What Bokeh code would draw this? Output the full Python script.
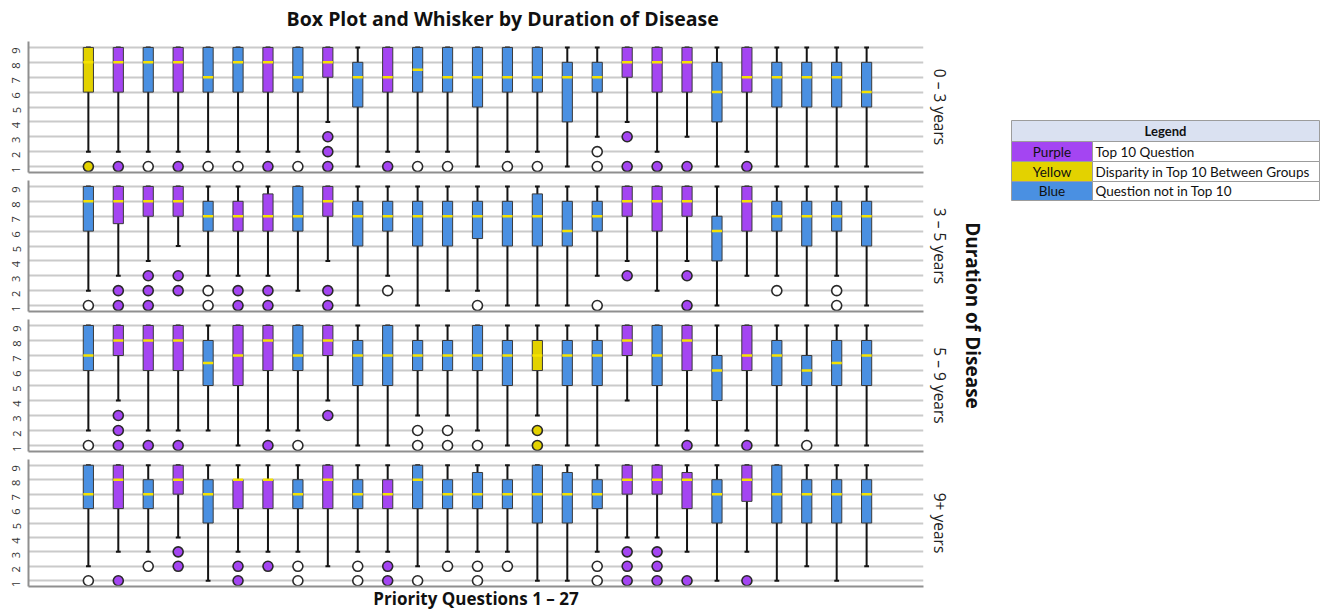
import math
from bokeh.plotting import figure
from bokeh.layouts import column, row
from bokeh.models import Range1d, FixedTicker, Title, ColumnDataSource
from bokeh.embed import file_html
from bokeh.resources import INLINE
from bokeh.core.properties import value

# ---------------- data ----------------
questions = list(range(1, 28))
group_labels = ["0 – 3 years", "3 – 5 years", "5 – 9 years", "9+ years"]
y_ticks = [1, 2, 3, 4, 5, 6, 7, 8, 9]

# 0 – 3 years
g1_low  = [2, 2, 2, 2, 2, 2, 2, 2, 4, 1, 2, 2, 2, 1, 2, 2, 1, 3, 4, 2, 3, 1, 2, 1, 1, 1, 1]
g1_q1   = [6, 6, 6, 6, 6, 6, 6, 6, 7, 5, 6, 6, 6, 5, 6, 6, 4, 6, 7, 6, 6, 4, 6, 5, 5, 5, 5]
g1_med  = [8, 8, 8, 8, 7, 8, 8, 7, 8, 7, 7, 7.5, 7, 7, 7, 7, 7, 7, 8, 8, 8, 6, 7, 7, 7, 7, 6]
g1_q3   = [9, 9, 9, 9, 9, 9, 9, 9, 9, 8, 9, 9, 9, 9, 9, 9, 8, 8, 9, 9, 9, 8, 9, 8, 8, 8, 8]
g1_high = [9, 9, 9, 9, 9, 9, 9, 9, 9, 9, 9, 9, 9, 9, 9, 9, 9, 9, 9, 9, 9, 9, 9, 9, 9, 9, 9]
g1_cat  = ["Y", "P", "B", "P", "B", "B", "P", "B", "P", "B", "P", "B", "B", "B",
           "B", "B", "B", "B", "P", "P", "P", "B", "P", "B", "B", "B", "B"]
g1_out  = [[1], [1], [1], [1], [1], [1], [1], [1], [3, 2, 1], [], [1], [1], [1], [],
           [1], [1], [], [2, 1], [3, 1], [1], [1], [], [1], [], [], [], []]

# 3 – 5 years
g2_low  = [2, 3, 4, 5, 3, 3, 3, 2, 4, 1, 3, 1, 2, 2, 1, 1, 1, 3, 4, 2, 4, 1, 3, 3, 1, 3, 1]
g2_q1   = [6, 6.5, 7, 7, 6, 6, 6, 6, 7, 5, 6, 5, 5, 5.5, 5, 5, 5, 6, 7, 6, 7, 4, 6, 6, 5, 6, 5]
g2_med  = [8, 8, 8, 8, 7, 7, 7, 7, 8, 7, 7, 7, 7, 7, 7, 7, 6, 7, 8, 8, 8, 6, 8, 7, 7, 7, 7]
g2_q3   = [9, 9, 9, 9, 8, 8, 8.5, 9, 9, 8, 8, 8, 8, 8, 8, 8.5, 8, 8, 9, 9, 9, 7, 9, 8, 8, 8, 8]
g2_high = [9, 9, 9, 9, 9, 9, 9, 9, 9, 9, 9, 9, 9, 9, 9, 9, 9, 9, 9, 9, 9, 9, 9, 9, 9, 9, 9]
g2_cat  = ["B", "P", "P", "P", "B", "P", "P", "B", "P", "B", "B", "B", "B", "B",
           "B", "B", "B", "B", "P", "P", "P", "B", "P", "B", "B", "B", "B"]
g2_out  = [[1], [2, 1], [3, 2, 1], [3, 2], [2, 1], [2, 1], [2, 1], [], [2, 1], [], [2], [], [], [1],
           [], [], [], [1], [3], [], [3, 1], [], [], [2], [], [2, 1], []]

# 5 – 9 years
g3_low  = [2, 4, 2, 2, 2, 1, 2, 2, 4, 1, 1, 3, 3, 2, 1, 3, 1, 1, 4, 1, 2, 1, 2, 1, 2, 1, 1]
g3_q1   = [6, 7, 6, 6, 5, 5, 6, 6, 7, 5, 5, 6, 6, 6, 5, 6, 5, 5, 7, 5, 6, 4, 6, 5, 5, 5, 5]
g3_med  = [7, 8, 8, 8, 6.5, 7, 8, 7, 8, 7, 7, 7, 7, 7, 7, 7, 7, 7, 8, 7, 8, 6, 7, 7, 6, 6.5, 7]
g3_q3   = [9, 9, 9, 9, 8, 9, 9, 9, 9, 8, 9, 8, 8, 9, 8, 8, 8, 8, 9, 9, 9, 7, 9, 8, 7, 8, 8]
g3_high = [9, 9, 9, 9, 9, 9, 9, 9, 9, 9, 9, 9, 9, 9, 9, 9, 9, 9, 9, 9, 9, 9, 9, 9, 9, 9, 9]
g3_cat  = ["B", "P", "P", "P", "B", "P", "P", "B", "P", "B", "B", "B", "B", "B",
           "B", "Y", "B", "B", "P", "B", "P", "B", "P", "B", "B", "B", "B"]
g3_out  = [[1], [3, 2, 1], [1], [1], [], [], [1], [1], [3], [], [], [2, 1], [2, 1], [1],
           [], [2, 1], [], [], [], [], [1], [], [1], [], [1], [], []]

# 9+ years
g4_low  = [2, 3, 3, 4, 1, 3, 3, 3, 2, 3, 3, 2, 3, 3, 3, 1, 1, 3, 4, 4, 3, 1, 3, 1, 2, 1, 2]
g4_q1   = [6, 6, 6, 7, 5, 6, 6, 6, 6, 6, 6, 6, 6, 6, 6, 5, 5, 6, 7, 7, 6, 5, 6.5, 5, 5, 5, 5]
g4_med  = [7, 8, 7, 8, 7, 8, 8, 7, 8, 7, 7, 8, 7, 7, 7, 7, 7, 7, 8, 8, 8, 7, 8, 7, 7, 7, 7]
g4_q3   = [9, 9, 8, 9, 8, 8, 8, 8, 9, 8, 8, 9, 8, 8.5, 8, 9, 8.5, 8, 9, 9, 8.5, 8, 9, 9, 8, 8, 8]
g4_high = [9, 9, 9, 9, 9, 9, 9, 9, 9, 9, 9, 9, 9, 9, 9, 9, 9, 9, 9, 9, 9, 9, 9, 9, 9, 9, 9]
g4_cat  = ["B", "P", "B", "P", "B", "P", "P", "B", "P", "B", "P", "B", "B", "B",
           "B", "B", "B", "B", "P", "P", "P", "B", "P", "B", "B", "B", "B"]
g4_out  = [[1], [1], [2], [3, 2], [], [2, 1], [2], [2, 1], [], [2, 1], [2, 1], [1], [2], [2, 1],
           [2], [], [], [2, 1], [3, 2, 1], [3, 2, 1], [1], [], [1], [], [], [], []]

legend_names = ["Purple", "Yellow", "Blue"]
legend_desc = ["Top 10 Question", "Disparity in Top 10 Between Groups", "Question not in Top 10"]
legend_keys = ["P", "Y", "B"]

# ---------------- style ----------------
COLORS = {"P": "#a445f2", "Y": "#e3d200", "B": "#4a90e2"}
MEDIAN = "#f5e200"
FONT = "Open Sans"
LFONT = "Lato"

panels = [
    (g1_low, g1_q1, g1_med, g1_q3, g1_high, g1_cat, g1_out),
    (g2_low, g2_q1, g2_med, g2_q3, g2_high, g2_cat, g2_out),
    (g3_low, g3_q1, g3_med, g3_q3, g3_high, g3_cat, g3_out),
    (g4_low, g4_q1, g4_med, g4_q3, g4_high, g4_cat, g4_out),
]

PW = 955          # width of the panel column
TITLE_H = 32
tops = [9, 4, 4, 4]
bottoms = [4, 4, 4, 21]
frames = [131, 131, 132, 132]

# title strip
tfig = figure(width=PW, height=TITLE_H, x_range=Range1d(0, PW), y_range=Range1d(0, TITLE_H),
              x_axis_location=None, y_axis_location=None, min_border=0,
              outline_line_color=None, toolbar_location=None, output_backend="svg")
tfig.grid.visible = False
tfig.text(x=[506], y=[TITLE_H - 18], text=["Box Plot and Whisker by Duration of Disease"],
          text_align="center", text_baseline="middle", text_font=value(FONT),
          text_font_size="19.5px", text_font_style="bold", text_color="#111111")

figs = [tfig]
for i, (low, q1, med, q3, high, cat, out) in enumerate(panels):
    h = tops[i] + frames[i] + bottoms[i]
    p = figure(width=PW, height=h, x_range=Range1d(-1, 28.9), y_range=Range1d(0.6, 9.4),
               output_backend="svg", toolbar_location=None,
               min_border_left=28, min_border_right=30,
               min_border_top=tops[i], min_border_bottom=bottoms[i],
               outline_line_color=None)
    p.xaxis.ticker = FixedTicker(ticks=[])
    p.xaxis.major_label_text_font_size = "0px"
    p.xaxis.major_tick_out = 0
    p.xaxis.major_tick_in = 0
    p.xaxis.minor_tick_out = 0
    p.xaxis.major_label_standoff = 0
    p.xaxis.axis_line_color = "#8f8f8f"
    p.xaxis.axis_line_width = 2
    p.yaxis.ticker = FixedTicker(ticks=y_ticks)
    p.yaxis.major_label_orientation = math.pi / 2
    p.yaxis.major_label_text_font = FONT
    p.yaxis.major_label_text_font_size = "11px"
    p.yaxis.major_label_text_color = "#333333"
    p.yaxis.major_label_standoff = 12
    p.yaxis.major_tick_out = 0
    p.yaxis.major_tick_in = 0
    p.yaxis.minor_tick_out = 0
    p.yaxis.minor_tick_in = 0
    p.yaxis.axis_line_color = "#8f8f8f"
    p.yaxis.axis_line_width = 2
    p.xgrid.visible = False
    p.ygrid.ticker = FixedTicker(ticks=y_ticks)
    p.ygrid.grid_line_color = "#cacaca"
    p.ygrid.grid_line_width = 2

    if i == 3:
        p.xaxis.axis_label = "Priority Questions 1 – 27"
        p.xaxis.axis_label_text_font = FONT
        p.xaxis.axis_label_text_font_size = "17px"
        p.xaxis.axis_label_text_font_style = "bold"
        p.xaxis.axis_label_text_color = "#111111"
        p.xaxis.axis_label_standoff = 0

    p.add_layout(Title(text=group_labels[i], align="center", vertical_align="middle",
                       text_font=FONT, text_font_size="15.5px", text_font_style="normal",
                       text_color="#222222", standoff=8), "right")

    fill = [COLORS[c] for c in cat]
    src = ColumnDataSource(dict(
        x=questions, low=low, q1=q1, med=med, q3=q3, high=high, fill=fill,
        xl=[q - 0.17 for q in questions], xr=[q + 0.17 for q in questions],
        cl=[q - 0.08 for q in questions], cr=[q + 0.08 for q in questions]))
    p.segment(x0="x", y0="low", x1="x", y1="q1", source=src, line_color="#141414", line_width=2)
    p.segment(x0="x", y0="q3", x1="x", y1="high", source=src, line_color="#141414", line_width=2)
    p.segment(x0="cl", y0="low", x1="cr", y1="low", source=src, line_color="#141414", line_width=2)
    p.segment(x0="cl", y0="high", x1="cr", y1="high", source=src, line_color="#141414", line_width=2)
    p.vbar(x="x", bottom="q1", top="q3", width=0.34, fill_color="fill",
           line_color="#3a3a3a", line_width=1, source=src)
    p.segment(x0="xl", y0="med", x1="xr", y1="med", source=src, line_color=MEDIAN, line_width=2.5)

    ox, oy, of = [], [], []
    for q, vals, c in zip(questions, out, cat):
        for v in vals:
            ox.append(q)
            oy.append(v)
            of.append("white" if c == "B" else COLORS[c])
    p.scatter(x=ox, y=oy, size=10, fill_color=of, line_color="#2a2a2a", line_width=1.6)
    figs.append(p)

# ---------------- side: axis title + legend ----------------
TOTAL_H = TITLE_H + sum(tops) + sum(bottoms) + sum(frames)
SW = 1320 - PW
side = figure(width=SW, height=TOTAL_H, x_range=Range1d(0, SW), y_range=Range1d(0, TOTAL_H),
              x_axis_location=None, y_axis_location=None, min_border=0,
              outline_line_color=None, toolbar_location=None, output_backend="svg")
side.grid.visible = False

def sy(page_y):
    return TOTAL_H - page_y

def sx(page_x):
    return page_x - PW

side.text(x=[sx(972)], y=[sy(315)], text=["Duration of Disease"], angle=-math.pi / 2,
          text_align="center", text_baseline="middle", text_font=value(FONT),
          text_font_size="19px", text_font_style="bold", text_color="#111111")

L, M, R = sx(1011), sx(1092), sx(1319)
rows_y = [120, 141, 161, 181, 200]
side.quad(left=[L], right=[R], top=[sy(rows_y[0])], bottom=[sy(rows_y[1])],
          fill_color="#dae1f1", line_color="#9c9c9c", line_width=1)
side.text(x=[(L + R) / 2], y=[(sy(rows_y[0]) + sy(rows_y[1])) / 2], text=["Legend"],
          text_align="center", text_baseline="middle", text_font=value(LFONT),
          text_font_size="13px", text_font_style="bold", text_color="#111111")
for k in range(3):
    t, b = sy(rows_y[k + 1]), sy(rows_y[k + 2])
    side.quad(left=[L], right=[M], top=[t], bottom=[b],
              fill_color=COLORS[legend_keys[k]], line_color="#9c9c9c", line_width=1)
    side.quad(left=[M], right=[R], top=[t], bottom=[b],
              fill_color="white", line_color="#9c9c9c", line_width=1)
    side.text(x=[(L + M) / 2], y=[(t + b) / 2], text=[legend_names[k]],
              text_align="center", text_baseline="middle", text_font=value(LFONT),
              text_font_size="13.5px", text_color="#111111")
    side.text(x=[M + 3], y=[(t + b) / 2], text=[legend_desc[k]],
              text_align="left", text_baseline="middle", text_font=value(LFONT),
              text_font_size="13.5px", text_color="#111111")

layout = row(column(*figs, spacing=0), side, spacing=0)
open("out.html", "w").write(file_html(layout, INLINE))
